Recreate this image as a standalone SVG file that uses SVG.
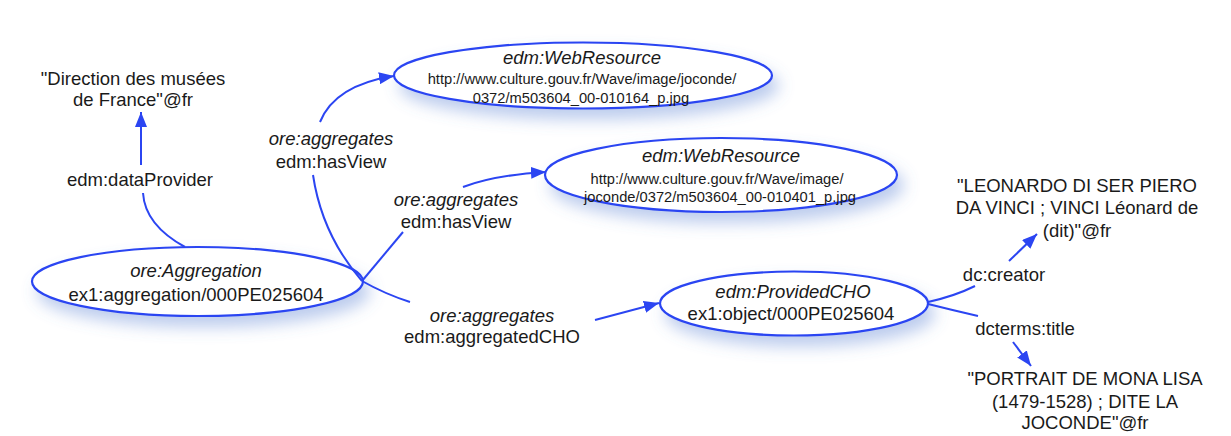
<svg xmlns="http://www.w3.org/2000/svg" width="1231" height="436" viewBox="0 0 1231 436">
<style>
text { font-family: "Liberation Sans", Arial, Helvetica, sans-serif; font-size: 18.5px; fill: #1a1a1a; text-anchor: middle; }
.it { font-style: italic; }
.url { font-size: 14.7px; }
.node { fill: #ffffff; stroke: #2b45f2; stroke-width: 2.2; filter: url(#shadow); }
.edge { fill: none; stroke: #2b45f2; stroke-width: 2; }
.arr { marker-end: url(#head); }
</style>
<defs>
<filter id="shadow" x="-20%" y="-40%" width="140%" height="200%">
<feDropShadow dx="6" dy="10" stdDeviation="8" flood-color="#5a7fd2" flood-opacity="0.4"/>
</filter>
<marker id="head" markerUnits="userSpaceOnUse" markerWidth="16" markerHeight="12" refX="15" refY="6" orient="auto">
<path d="M0,0 L15,6 L0,12 z" fill="#2b45f2"/>
</marker>
</defs>
<rect width="1231" height="436" fill="#ffffff"/>

<g id="node-aggregation">
<ellipse class="node" cx="197.5" cy="281.5" rx="165.5" ry="34.5"/>
<text class="it" x="196" y="277">ore:Aggregation</text>
<text x="196" y="301">ex1:aggregation/000PE025604</text>
</g>

<g id="node-webresource1">
<ellipse class="node" cx="583" cy="75.5" rx="189" ry="33"/>
<text class="it" x="582" y="64">edm:WebResource</text>
<text class="url" x="582" y="84">http://www.culture.gouv.fr/Wave/image/joconde/</text>
<text class="url" x="581" y="103">0372/m503604_00-010164_p.jpg</text>
</g>

<g id="node-webresource2">
<ellipse class="node" cx="721" cy="175" rx="176" ry="37"/>
<text class="it" x="721" y="162">edm:WebResource</text>
<text class="url" x="717" y="184">http://www.culture.gouv.fr/Wave/image/</text>
<text class="url" x="720" y="202">joconde/0372/m503604_00-010401_p.jpg</text>
</g>

<g id="node-providedcho">
<ellipse class="node" cx="794" cy="303.5" rx="134" ry="32"/>
<text class="it" x="793" y="298">edm:ProvidedCHO</text>
<text x="791" y="320">ex1:object/000PE025604</text>
</g>

<g id="node-provider">
<text x="133" y="85">"Direction des musées</text>
<text x="133" y="106">de France"@fr</text>
</g>

<g id="node-creator">
<text x="1077" y="192">"LEONARDO DI SER PIERO</text>
<text x="1077" y="214">DA VINCI ; VINCI Léonard de</text>
<text x="1077" y="237">(dit)"@fr</text>
</g>

<g id="node-title">
<text x="1085" y="385">"PORTRAIT DE MONA LISA</text>
<text x="1085" y="408">(1479-1528) ; DITE LA</text>
<text x="1085" y="429">JOCONDE"@fr</text>
</g>

<g id="connectors">
<g id="edge-dataProvider">
<path class="edge" d="M185,247 Q145,225 143,193"/>
<path class="edge arr" d="M141,165 L141,112"/>
<text x="140" y="186">edm:dataProvider</text>
</g>
<g id="edge-hasView1">
<path class="edge" d="M362,281 Q322,235 313,175"/>
<path class="edge arr" d="M320,122 Q335,85 394,76"/>
<text class="it" x="331" y="145">ore:aggregates</text>
<text x="331" y="168">edm:hasView</text>
</g>
<g id="edge-hasView2">
<path class="edge" d="M362,281 L403,232"/>
<path class="edge arr" d="M463,187 Q495,175 546,172"/>
<text class="it" x="456" y="206">ore:aggregates</text>
<text x="456" y="228">edm:hasView</text>
</g>
<g id="edge-aggregatedCHO">
<path class="edge" d="M362,281 Q385,294 410,302"/>
<path class="edge arr" d="M595,320 L659,303"/>
<text class="it" x="492" y="322">ore:aggregates</text>
<text x="492" y="343">edm:aggregatedCHO</text>
</g>
<g id="edge-creator">
<path class="edge" d="M928,302 Q955,296 975,286"/>
<path class="edge arr" d="M1009,261 L1037,234"/>
<text x="1004" y="281">dc:creator</text>
</g>
<g id="edge-title">
<path class="edge" d="M928,304 Q952,310 978,316"/>
<path class="edge arr" d="M1013,342 L1031,366"/>
<text x="1025" y="335">dcterms:title</text>
</g>
</g>
</svg>
